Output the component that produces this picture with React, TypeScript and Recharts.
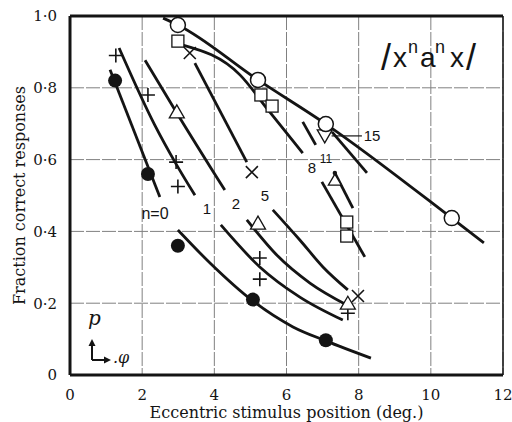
import React from 'react';
import {
  ComposedChart,
  Line,
  Scatter,
  XAxis,
  YAxis,
  CartesianGrid,
  ReferenceLine,
} from 'recharts';

type P = { x: number; y: number };

const xTicks = [0, 2, 4, 6, 8, 10, 12];
const yTicks = [0, 0.2, 0.4, 0.6, 0.8, 1];

// ---- measured points (markers) ----
const filledCircles: P[] = [
  { x: 1.25, y: 0.82 },
  { x: 2.16, y: 0.56 },
  { x: 2.99, y: 0.36 },
  { x: 5.07, y: 0.21 },
  { x: 7.09, y: 0.097 },
];
const plusMarks: P[] = [
  { x: 1.27, y: 0.89 },
  { x: 2.16, y: 0.78 },
  { x: 2.94, y: 0.593 },
  { x: 2.99, y: 0.525 },
  { x: 5.26, y: 0.326 },
  { x: 5.26, y: 0.267 },
  { x: 7.7, y: 0.172 },
];
const triangles: P[] = [
  { x: 2.96, y: 0.733 },
  { x: 5.21, y: 0.423 },
  { x: 7.7, y: 0.2 },
];
const crosses: P[] = [
  { x: 3.32, y: 0.897 },
  { x: 5.04, y: 0.565 },
  { x: 7.98, y: 0.22 },
];
const squares: P[] = [
  { x: 2.99, y: 0.93 },
  { x: 5.29, y: 0.78 },
  { x: 5.6, y: 0.749 },
  { x: 7.67, y: 0.426 },
  { x: 7.67, y: 0.387 },
];
const dotTriangles: P[] = [{ x: 7.34, y: 0.543 }];
const invTriangles: P[] = [{ x: 7.06, y: 0.666 }];
const openCircles: P[] = [
  { x: 2.99, y: 0.975 },
  { x: 5.21, y: 0.822 },
  { x: 7.09, y: 0.699 },
  { x: 10.58, y: 0.437 },
];

// ---- fitted curves ----
const n0Upper: P[] = [
  { x: 1.11, y: 0.85 },
  { x: 2.49, y: 0.496 },
];
const n0Lower: P[] = [
  { x: 2.99, y: 0.404 },
  { x: 3.88, y: 0.312 },
  { x: 5.07, y: 0.206 },
  { x: 6.18, y: 0.134 },
  { x: 7.09, y: 0.095 },
  { x: 8.34, y: 0.047 },
];
const n1Upper: P[] = [
  { x: 1.36, y: 0.911 },
  { x: 2.35, y: 0.696 },
  { x: 2.91, y: 0.593 },
  { x: 3.46, y: 0.501 },
];
const n1Lower: P[] = [
  { x: 4.18, y: 0.418 },
  { x: 5.26, y: 0.301 },
  { x: 6.37, y: 0.217 },
  { x: 7.56, y: 0.153 },
];
const n2Upper: P[] = [
  { x: 2.08, y: 0.877 },
  { x: 2.96, y: 0.73 },
  { x: 4.29, y: 0.515 },
];
const n2Lower: P[] = [
  { x: 4.9, y: 0.432 },
  { x: 5.73, y: 0.334 },
  { x: 6.65, y: 0.256 },
  { x: 7.67, y: 0.195 },
];
const n5Upper: P[] = [
  { x: 3.46, y: 0.869 },
  { x: 4.9, y: 0.593 },
];
const n5Lower: P[] = [
  { x: 5.62, y: 0.46 },
  { x: 6.37, y: 0.376 },
  { x: 7.01, y: 0.301 },
  { x: 7.7, y: 0.237 },
];
const n8Upper: P[] = [
  { x: 3.13, y: 0.919 },
  { x: 4.71, y: 0.836 },
  { x: 5.5, y: 0.737 },
  { x: 6.45, y: 0.618 },
];
const n8Lower: P[] = [
  { x: 6.98, y: 0.538 },
  { x: 8.17, y: 0.329 },
];
const n11Upper: P[] = [
  { x: 6.45, y: 0.705 },
  { x: 6.81, y: 0.641 },
];
const n11Lower: P[] = [
  { x: 7.34, y: 0.563 },
  { x: 7.84, y: 0.465 },
];
const n15Line: P[] = [
  { x: 7.26, y: 0.677 },
  { x: 8.23, y: 0.563 },
];
const openLine: P[] = [
  { x: 2.58, y: 0.994 },
  { x: 2.99, y: 0.975 },
  { x: 5.21, y: 0.822 },
  { x: 7.09, y: 0.699 },
  { x: 10.58, y: 0.437 },
  { x: 11.47, y: 0.368 },
];

const curves: P[][] = [
  n0Upper, n0Lower, n1Upper, n1Lower, n2Upper, n2Lower, n5Upper, n5Lower,
  n8Upper, n8Lower, n11Upper, n11Lower, n15Line, openLine,
];

const INK = '#141414';
const SERIF = '"DejaVu Serif", serif';
const SANS = '"Liberation Sans", Arial, sans-serif';

const FilledCircle = (p: any) => <circle cx={p.cx} cy={p.cy} r={7} fill={INK} />;
const OpenCircle = (p: any) => (
  <circle cx={p.cx} cy={p.cy} r={7.5} fill="#fff" stroke={INK} strokeWidth={1.5} />
);
const Square = (p: any) => (
  <rect x={p.cx - 6} y={p.cy - 6} width={12} height={12} fill="#fff" stroke={INK} strokeWidth={1.3} />
);
const Cross = (p: any) => (
  <path
    d={`M${p.cx - 6},${p.cy - 6}L${p.cx + 6},${p.cy + 6}M${p.cx + 6},${p.cy - 6}L${p.cx - 6},${p.cy + 6}`}
    stroke={INK}
    strokeWidth={1.6}
  />
);
const Plus = (p: any) => (
  <path
    d={`M${p.cx - 7},${p.cy}L${p.cx + 7},${p.cy}M${p.cx},${p.cy - 7}L${p.cx},${p.cy + 7}`}
    stroke={INK}
    strokeWidth={1.6}
  />
);
const TriUp = (p: any) => (
  <path
    d={`M${p.cx},${p.cy - 7}L${p.cx + 7.5},${p.cy + 6}L${p.cx - 7.5},${p.cy + 6}Z`}
    fill="#fff"
    stroke={INK}
    strokeWidth={1.3}
  />
);
const TriDot = (p: any) => (
  <g>
    <path
      d={`M${p.cx},${p.cy - 6}L${p.cx + 6.5},${p.cy + 5}L${p.cx - 6.5},${p.cy + 5}Z`}
      fill="#fff"
      stroke={INK}
      strokeWidth={1.3}
    />
    <circle cx={p.cx} cy={p.cy - 7} r={2.2} fill={INK} />
  </g>
);
const TriDown = (p: any) => (
  <path
    d={`M${p.cx - 7.5},${p.cy - 6}L${p.cx + 7.5},${p.cy - 6}L${p.cx},${p.cy + 7}Z`}
    fill="#fff"
    stroke={INK}
    strokeWidth={1.3}
  />
);

const yFmt = (v: number) => (v === 0 ? '0' : v.toFixed(1).replace('.', '·'));

export default function App() {
  return (
    <div style={{ position: 'absolute', left: 0, top: 0, width: 512, height: 422, background: '#fff' }}>
      <ComposedChart width={512} height={422} margin={{ top: 16, right: 9, left: 0, bottom: 0 }}>
        <CartesianGrid stroke="#808080" strokeWidth={1} strokeDasharray="14 2" />
        <XAxis
          dataKey="x"
          type="number"
          domain={[0, 12]}
          ticks={xTicks}
          height={47}
          tickSize={0}
          tickMargin={14}
          axisLine={{ stroke: INK, strokeWidth: 3 }}
          tickLine={false}
          tick={{ fill: INK, fontSize: 15, fontFamily: SERIF }}
          label={{
            value: 'Eccentric stimulus position (deg.)',
            position: 'insideBottom',
            offset: 4,
            style: { fill: INK, fontSize: 16, fontFamily: SERIF, textAnchor: 'middle' },
          }}
        />
        <YAxis
          dataKey="y"
          type="number"
          domain={[0, 1]}
          ticks={yTicks}
          width={70}
          tickSize={0}
          tickMargin={13}
          tickFormatter={yFmt}
          axisLine={{ stroke: INK, strokeWidth: 3 }}
          tickLine={false}
          tick={{ fill: INK, fontSize: 15, fontFamily: SERIF }}
          label={{
            value: 'Fraction correct responses',
            angle: -90,
            position: 'insideLeft',
            offset: 19,
            style: { fill: INK, fontSize: 16, fontFamily: SERIF, textAnchor: 'middle' },
          }}
        />
        <ReferenceLine y={1} stroke={INK} strokeWidth={3} />
        <ReferenceLine x={12} stroke={INK} strokeWidth={1.5} />
        <ReferenceLine
          segment={[
            { x: 7.25, y: 0.666 },
            { x: 8.09, y: 0.666 },
          ]}
          stroke={INK}
          strokeWidth={1.2}
        />
        {curves.map((c, i) => (
          <Line
            key={i}
            data={c}
            dataKey="y"
            type="monotone"
            stroke={INK}
            strokeWidth={2.8}
            dot={false}
            activeDot={false}
            isAnimationActive={false}
          />
        ))}
        <Scatter data={filledCircles} shape={FilledCircle} isAnimationActive={false} />
        <Scatter data={plusMarks} shape={Plus} isAnimationActive={false} />
        <Scatter data={triangles} shape={TriUp} isAnimationActive={false} />
        <Scatter data={crosses} shape={Cross} isAnimationActive={false} />
        <Scatter data={squares} shape={Square} isAnimationActive={false} />
        <Scatter data={dotTriangles} shape={TriDot} isAnimationActive={false} />
        <Scatter data={invTriangles} shape={TriDown} isAnimationActive={false} />
        <Scatter data={openCircles} shape={OpenCircle} isAnimationActive={false} />
      </ComposedChart>
      <svg
        width={512}
        height={422}
        style={{ position: 'absolute', left: 0, top: 0, pointerEvents: 'none' }}
      >
        <g fill={INK} fontFamily={SANS}>
          <text x={155} y={219} fontSize={16} textAnchor="middle">n=0</text>
          <text x={207} y={214} fontSize={15} textAnchor="middle">1</text>
          <text x={236} y={209} fontSize={15} textAnchor="middle">2</text>
          <text x={265} y={201} fontSize={15} textAnchor="middle">5</text>
          <text x={312} y={173} fontSize={15} textAnchor="middle">8</text>
          <text x={326} y={163} fontSize={12} textAnchor="middle">11</text>
          <text x={372} y={141} fontSize={15} textAnchor="middle">15</text>
          <text x={381} y={70} fontSize={36}>/</text>
          <text x={393} y={67} fontSize={28}>x</text>
          <text x={408} y={53} fontSize={18}>n</text>
          <text x={420} y={67} fontSize={28}>a</text>
          <text x={435} y={53} fontSize={18}>n</text>
          <text x={450} y={67} fontSize={28}>x</text>
          <text x={466} y={70} fontSize={36}>/</text>
        </g>
        <text x={88} y={325} fontSize={20} fontStyle="italic" fontFamily={SERIF} fill={INK}>p</text>
        <path d="M92,360 V344 M107,360 H92" stroke={INK} strokeWidth={2} fill="none" />
        <path d="M92,339 L88.5,346 L95.5,346 Z" fill={INK} />
        <path d="M111,360 L104,356.5 L104,363.5 Z" fill={INK} />
        <text x={113} y={363} fontSize={16} fontStyle="italic" fontFamily={SERIF} fill={INK}>.φ</text>
      </svg>
    </div>
  );
}
